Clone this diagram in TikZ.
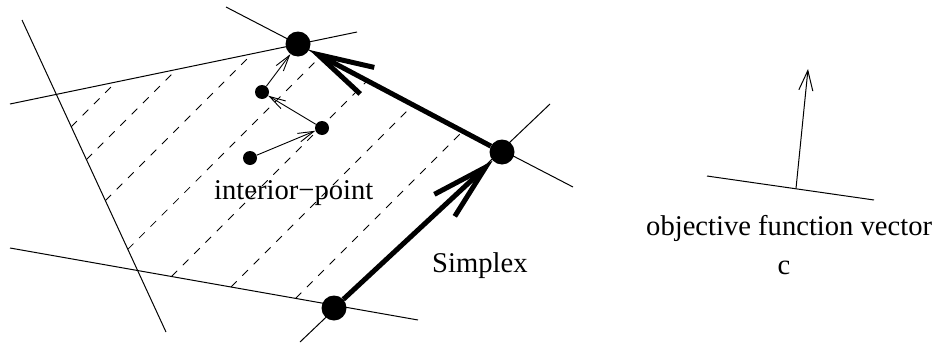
\documentclass[tikz,border=0pt]{standalone}
\usepackage{fontspec}
\setmainfont{Liberation Serif}
\usetikzlibrary{arrows.meta}
\begin{document}
\begin{tikzpicture}[x=1pt,y=-1pt,
  lbl/.style={font=\fontsize{28.6}{34}\selectfont, inner sep=0pt},
  constraint/.style={line width=1pt},
  hatch/.style={line width=0.8pt, dash pattern=on 8pt off 8pt},
  vertex/.style={circle, fill=black, inner sep=0pt, minimum size=25pt},
  ipt/.style={circle, fill=black, inner sep=0pt, minimum size=14pt},
  simplexarrow/.style={line width=5pt, -{Straight Barb[length=56pt,width=30pt]}},
  iparrow/.style={line width=0.9pt, -{Straight Barb[length=16pt,width=9pt]}},
  objarrow/.style={line width=1pt, -{Straight Barb[length=20pt,width=14pt]}}]
\useasboundingbox (0,0) rectangle (934,343);

% hatching of the feasible region
\draw[hatch] (71.3,126.7) -- (116.0,82.0);
\draw[hatch] (86.4,159.6) -- (176.6,69.4);
\draw[hatch] (105.4,200.6) -- (252.2,53.8);
\draw[hatch] (127.8,249.3) -- (320.8,56.2);
\draw[hatch] (171.5,276.5) -- (367.5,80.5);
\draw[hatch] (231.0,287.0) -- (413.6,104.4);
\draw[hatch] (295.6,298.4) -- (463.6,130.4);

% constraint lines
\coordinate (l1a) at (22,20);   \coordinate (l1b) at (166,332);
\coordinate (l2a) at (10,104);  \coordinate (l2b) at (357,32);
\coordinate (l3a) at (226,7);   \coordinate (l3b) at (573,187);
\coordinate (l4a) at (550,104); \coordinate (l4b) at (300,342);
\coordinate (l5a) at (10,248);  \coordinate (l5b) at (418,320);
\draw[constraint] (l1a) -- (l1b);
\draw[constraint] (l2a) -- (l2b);
\draw[constraint] (l3a) -- (l3b);
\draw[constraint] (l4a) -- (l4b);
\draw[constraint] (l5a) -- (l5b);

% vertices and interior points
\node[vertex] (T) at (298,44) {};
\node[vertex] (R) at (502,152) {};
\node[vertex] (B) at (334,308) {};
\node[ipt] (P1) at (250,158) {};
\node[ipt] (P2) at (322,128) {};
\node[ipt] (P3) at (262,92) {};

% simplex path
\draw[simplexarrow] (B) -- (R);
\draw[simplexarrow] (R) -- (T);

% interior-point path
\draw[iparrow] (P1) -- (P2);
\draw[iparrow] (P2) -- (P3);
\draw[iparrow] (P3) -- (T);

% objective function vector
\coordinate (oa) at (707,176);
\coordinate (ob) at (874,200);
\coordinate (obase) at (796,188.5);
\coordinate (otip) at (808,69);
\draw[constraint] (oa) -- (ob);
\draw[objarrow] (obase) -- (otip);

% labels
\node[lbl, anchor=base west] (lint) at (214,199) {interior−point};
\node[lbl, anchor=base west] (lsim) at (432,272) {Simplex};
\node[lbl, anchor=base west] (lobj) at (646,235) {objective function vector};
\node[lbl, anchor=base] (lc) at (784,274) {c};
\end{tikzpicture}
\end{document}
